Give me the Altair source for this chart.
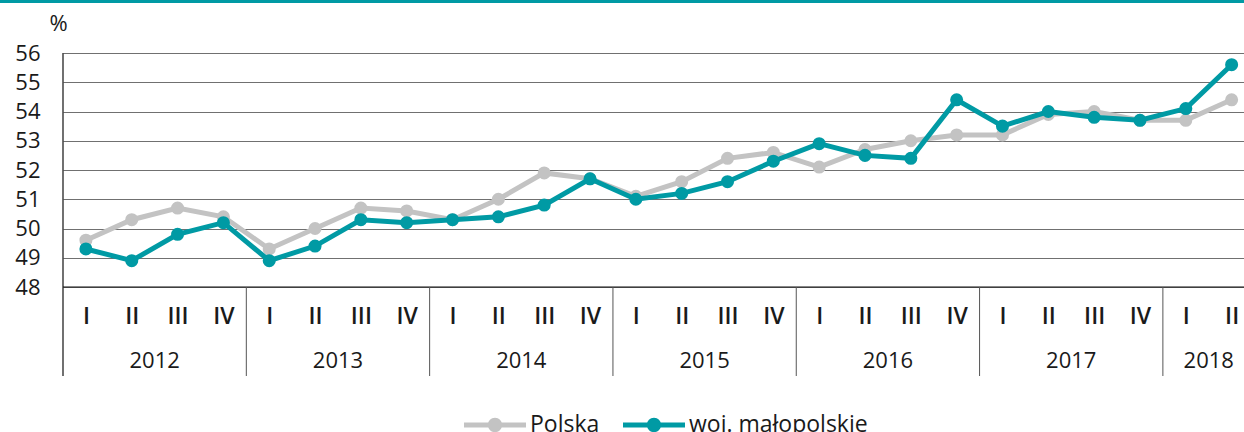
import altair as alt
import pandas as pd

# ---- data ----
years = [2012, 2013, 2014, 2015, 2016, 2017, 2018]
quarters_per_year = [4, 4, 4, 4, 4, 4, 2]
quarter_labels = ["I", "II", "III", "IV"]
y_ticks = [48, 49, 50, 51, 52, 53, 54, 55, 56]
series_names = ["Polska", "woj. małopolskie"]
polska = [49.6, 50.3, 50.7, 50.4,
          49.3, 50.0, 50.7, 50.6,
          50.3, 51.0, 51.9, 51.7,
          51.1, 51.6, 52.4, 52.6,
          52.1, 52.7, 53.0, 53.2,
          53.2, 53.9, 54.0, 53.7,
          53.7, 54.4]
malopolskie = [49.3, 48.9, 49.8, 50.2,
               48.9, 49.4, 50.3, 50.2,
               50.3, 50.4, 50.8, 51.7,
               51.0, 51.2, 51.6, 52.3,
               52.9, 52.5, 52.4, 54.4,
               53.5, 54.0, 53.8, 53.7,
               54.1, 55.6]

TEAL = "#009aa4"
GRAY = "#c3c3c3"
FONT = "Open Sans"
TXT = "#1a1a1a"

# build tables
rows = []
idx = 0
year_rows = []
sep_rows = []
for y, n in zip(years, quarters_per_year):
    start = idx
    for q in range(n):
        rows.append({"idx": idx, "year": y, "q": quarter_labels[q]})
        idx += 1
    year_rows.append({"idx": start + (n - 1) / 2, "year": str(y)})
    if start > 0:
        sep_rows.append({"idx": start - 0.5})
long = []
for name, vals in zip(series_names, [polska, malopolskie]):
    for r, v in zip(rows, vals):
        long.append({**r, "series": name, "value": v})
df = pd.DataFrame(long)
years_df = pd.DataFrame(year_rows)
sep_df = pd.DataFrame(sep_rows)
base48 = pd.DataFrame({"value": [y_ticks[0]]})

W, H = 1181, 234
xscale = alt.Scale(domain=[-0.5, 25.27], nice=False, zero=False)
yscale = alt.Scale(domain=[48, 56], nice=False, zero=False)

x_axis = alt.Axis(values=list(range(len(rows))),
                  labelExpr="['I','II','III','IV'][datum.value % 4]",
                  ticks=False, domain=False, grid=False, labelPadding=18,
                  labelFontSize=23, labelFont=FONT, labelFontWeight=600,
                  labelColor=TXT, title=None,
                  labelFlush=False, labelOverlap=False)
y_axis = alt.Axis(values=y_ticks, grid=True, gridColor="#707070", gridWidth=1.1,
                  domain=False, ticks=False, labelPadding=23, labelFontSize=22,
                  labelFont=FONT, labelColor=TXT, title=None)
X = alt.X("idx:Q", scale=xscale, axis=x_axis)
Y = alt.Y("value:Q", scale=yscale, axis=y_axis)

sym_path = ("M-1,-0.08H1V0.08H-1Z "
            "M0.23,0A0.23,0.23 0 1,1 -0.23,0A0.23,0.23 0 1,1 0.23,0Z")
legend = alt.Legend(orient="none", legendX=401, legendY=341, direction="horizontal",
                    title=None, symbolType=sym_path, symbolSize=3844,
                    symbolStrokeWidth=0, labelFontSize=23, labelFont=FONT,
                    labelColor=TXT, labelOffset=4, columnPadding=23, padding=0,
                    labelLimit=0)
color = alt.Color("series:N", scale=alt.Scale(domain=series_names, range=[GRAY, TEAL]),
                  legend=legend)

layers = []
for name, c in zip(series_names, [GRAY, TEAL]):
    sub = alt.Chart(df).transform_filter(alt.datum.series == name)
    layers.append(sub.mark_line(color=c, strokeWidth=5).encode(x=X, y=Y))
    layers.append(sub.mark_point(filled=True, opacity=1, size=170, shape="circle").encode(
        x=X, y=Y, color=color))

baseline = alt.Chart(base48).mark_rule(color="#111111", strokeWidth=1.2).encode(
    y=Y, x=alt.value(0), x2=alt.value(W))
seps = alt.Chart(sep_df).mark_rule(color="#555555", strokeWidth=1).encode(
    x=X, y=alt.value(H), y2=alt.value(323))
left_line = alt.Chart(base48).mark_rule(color="#111111", strokeWidth=1.2).encode(
    x=alt.value(0), y=alt.value(0), y2=alt.value(323))
year_text = alt.Chart(years_df).mark_text(fontSize=22, font=FONT, color=TXT,
                                          baseline="middle", align="center").encode(
    x=X, y=alt.value(308), text="year:N")
top_bar = alt.Chart(base48).mark_rule(color=TEAL, strokeWidth=3).encode(
    x=alt.value(-63), x2=alt.value(W), y=alt.value(-51.5))
pct = alt.Chart(base48).mark_text(text="%", fontSize=22, font=FONT, color=TXT,
                                  baseline="middle", align="center").encode(
    x=alt.value(-4.5), y=alt.value(-29))

chart = alt.layer(baseline, seps, left_line, year_text, top_bar, pct,
                  *layers).properties(
    width=W, height=H,
    padding={"left": 63, "top": 53, "right": 0, "bottom": 145},
    autosize=alt.AutoSizeParams(type="none"),
).configure_view(stroke=None)

chart.save("out.html", embed_options={"renderer": "svg", "actions": False})
